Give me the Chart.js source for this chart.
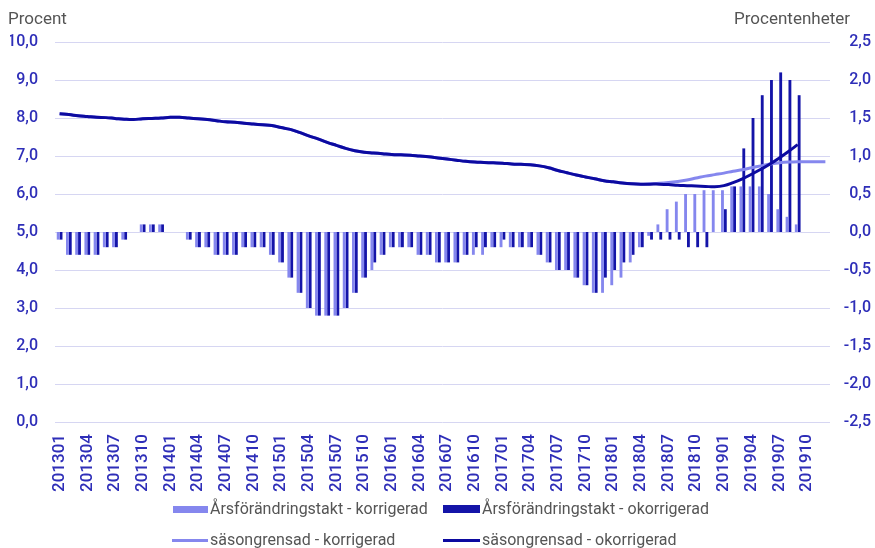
<!DOCTYPE html>
<html>
<head>
<meta charset="utf-8">
<script src="https://cdn.jsdelivr.net/npm/chart.js@4.4.1/dist/chart.umd.min.js"></script>
<style>
  body { margin: 0; background: #fff; font-family: Roboto, "Noto Sans", sans-serif; }
  #wrap { position: relative; width: 875px; height: 548px; }
  .title { position: absolute; top: 8px; font-size: 17px; color: #555; }
  .leg { position: absolute; font-size: 16px; color: #555; white-space: nowrap; }
  .sw { position: absolute; }
</style>
</head>
<body>
<div id="wrap">
  <canvas id="c" width="875" height="548"></canvas>
  <div class="title" style="left:8px">Procent</div>
  <div class="title" style="left:734px">Procentenheter</div>

  <div class="sw" style="left:173px;top:506px;width:35px;height:7px;background:#8587ee"></div>
  <div class="leg" style="left:210px;top:499px">Årsförändringstakt - korrigerad</div>
  <div class="sw" style="left:443px;top:505px;width:37px;height:8px;background:#1414a8"></div>
  <div class="leg" style="left:482px;top:499px">Årsförändringstakt - okorrigerad</div>

  <div class="sw" style="left:172px;top:539px;width:36px;height:3px;background:#8587ee"></div>
  <div class="leg" style="left:210px;top:530px">säsongrensad - korrigerad</div>
  <div class="sw" style="left:443px;top:539px;width:37px;height:3px;background:#0c0aa0"></div>
  <div class="leg" style="left:482px;top:530px">säsongrensad - okorrigerad</div>
</div>
<script>
// månader 201301 - 201912
const manader = [];
for (let y = 2013; y <= 2019; y++) {
  for (let m = 1; m <= 12; m++) manader.push(String(y) + String(m).padStart(2, "0"));
}

// Årsförändringstakt, procentenheter (höger axel)
const arsKorr = [
  -0.1, -0.3, -0.3, -0.3, -0.3, -0.2, -0.2, -0.1, 0, 0.1, 0.1, 0.1,
  0, 0, -0.1, -0.2, -0.2, -0.3, -0.3, -0.3, -0.2, -0.2, -0.2, -0.3,
  -0.4, -0.6, -0.8, -1.0, -1.1, -1.1, -1.1, -1.0, -0.8, -0.6, -0.5, -0.3,
  -0.2, -0.2, -0.2, -0.3, -0.3, -0.4, -0.4, -0.4, -0.3, -0.3, -0.3, -0.2,
  -0.2, -0.2, -0.2, -0.2, -0.3, -0.4, -0.5, -0.5, -0.6, -0.7, -0.8, -0.8,
  -0.7, -0.6, -0.4, -0.2, -0.05, 0.1, 0.3, 0.4, 0.5, 0.5, 0.55, 0.55,
  0.55, 0.6, 0.6, 0.6, 0.6, 0.5, 0.3, 0.2, 0.1, null, null, null
];
const arsOkorr = [
  -0.1, -0.3, -0.3, -0.3, -0.3, -0.2, -0.2, -0.1, 0, 0.1, 0.1, 0.1,
  0, 0, -0.1, -0.2, -0.2, -0.3, -0.3, -0.3, -0.2, -0.2, -0.2, -0.3,
  -0.4, -0.6, -0.8, -1.0, -1.1, -1.1, -1.1, -1.0, -0.8, -0.6, -0.4, -0.3,
  -0.2, -0.2, -0.2, -0.3, -0.3, -0.4, -0.4, -0.4, -0.3, -0.2, -0.2, -0.2,
  -0.1, -0.2, -0.2, -0.2, -0.3, -0.4, -0.5, -0.5, -0.6, -0.7, -0.8, -0.6,
  -0.5, -0.4, -0.3, -0.2, -0.1, -0.1, -0.1, -0.1, -0.2, -0.2, -0.2, 0,
  0.3, 0.6, 1.1, 1.5, 1.8, 2.0, 2.1, 2.0, 1.8, null, null, null
];

// Säsongrensad nivå, procent (vänster axel)
const sasKorr = [
  8.11, 8.09, 8.06, 8.04, 8.02, 8.01, 7.99, 7.97, 7.96, 7.98, 7.99, 8.0,
  8.02, 8.02, 8.0, 7.98, 7.96, 7.93, 7.9, 7.89, 7.86, 7.84, 7.82, 7.8,
  7.75, 7.7, 7.62, 7.53, 7.45, 7.36, 7.28, 7.2, 7.14, 7.1, 7.08, 7.06,
  7.04, 7.03, 7.02, 7.0, 6.98, 6.95, 6.92, 6.89, 6.86, 6.84, 6.83, 6.82,
  6.81, 6.79, 6.78, 6.77, 6.74, 6.69, 6.62, 6.56, 6.5, 6.45, 6.4, 6.35,
  6.32, 6.29, 6.27, 6.26, 6.27, 6.28, 6.3, 6.33, 6.37, 6.42, 6.47, 6.51,
  6.55, 6.6, 6.64, 6.69, 6.74, 6.79, 6.82, 6.84, 6.85, 6.85, 6.85, 6.85
];
const sasOkorr = [
  8.11, 8.09, 8.06, 8.04, 8.02, 8.01, 7.99, 7.97, 7.96, 7.98, 7.99, 8.0,
  8.02, 8.02, 8.0, 7.98, 7.96, 7.93, 7.9, 7.89, 7.86, 7.84, 7.82, 7.8,
  7.75, 7.7, 7.62, 7.53, 7.45, 7.36, 7.28, 7.2, 7.14, 7.1, 7.08, 7.06,
  7.04, 7.03, 7.02, 7.0, 6.98, 6.95, 6.92, 6.89, 6.86, 6.84, 6.83, 6.82,
  6.81, 6.79, 6.78, 6.77, 6.74, 6.69, 6.62, 6.56, 6.5, 6.45, 6.4, 6.35,
  6.32, 6.29, 6.27, 6.26, 6.26, 6.26, 6.25, 6.23, 6.22, 6.21, 6.2, 6.19,
  6.22, 6.3, 6.4, 6.52, 6.65, 6.79, 6.95, 7.12, 7.3, null, null, null
];

const ljus = "#8587ee";
const mork = "#1414a8";
const morkLinje = "#0c0aa0";
const blaText = "#2e2eb8";
const komma = v => v.toFixed(1).replace(".", ",");

new Chart(document.getElementById("c"), {
  data: {
    labels: manader,
    datasets: [
      { type: "line", label: "säsongrensad - okorrigerad", data: sasOkorr, yAxisID: "y",
        borderColor: morkLinje, borderWidth: 3, pointRadius: 0, tension: 0.4, order: 0 },
      { type: "line", label: "säsongrensad - korrigerad", data: sasKorr, yAxisID: "y",
        borderColor: ljus, borderWidth: 3, pointRadius: 0, tension: 0.4, order: 1 },
      { type: "bar", label: "Årsförändringstakt - korrigerad", data: arsKorr, yAxisID: "y2",
        backgroundColor: ljus, barPercentage: 1, categoryPercentage: 0.62, order: 2 },
      { type: "bar", label: "Årsförändringstakt - okorrigerad", data: arsOkorr, yAxisID: "y2",
        backgroundColor: mork, barPercentage: 1, categoryPercentage: 0.62, order: 3 }
    ]
  },
  options: {
    responsive: false,
    animation: false,
    devicePixelRatio: 1,
    layout: { padding: { left: 10, right: 4, top: 42, bottom: 52 } },
    plugins: { legend: { display: false }, tooltip: { enabled: false } },
    scales: {
      x: {
        offset: true,
        grid: { display: false },
        border: { display: false },
        ticks: {
          autoSkip: false, minRotation: 90, maxRotation: 90, padding: 4,
          color: blaText, font: { family: "Roboto", size: 17, weight: "500" },
          callback: function (v, i) { return i % 3 === 0 ? this.getLabelForValue(v) : ""; }
        }
      },
      y: {
        position: "left", min: 0, max: 10,
        afterFit: s => { s.width = 45; },
        grid: { color: "#d6d6f2", lineWidth: 1, drawTicks: false },
        border: { display: false },
        ticks: { stepSize: 1, padding: 17, color: blaText,
          font: { family: "Roboto", size: 16, weight: "500" }, callback: komma }
      },
      y2: {
        position: "right", min: -2.5, max: 2.5,
        afterFit: s => { s.width = 41; },
        grid: { display: false, drawTicks: false },
        border: { display: false },
        ticks: { stepSize: 0.5, padding: 13, crossAlign: "far", color: blaText,
          font: { family: "Roboto", size: 16, weight: "500" }, callback: komma }
      }
    }
  }
});
</script>
</body>
</html>
